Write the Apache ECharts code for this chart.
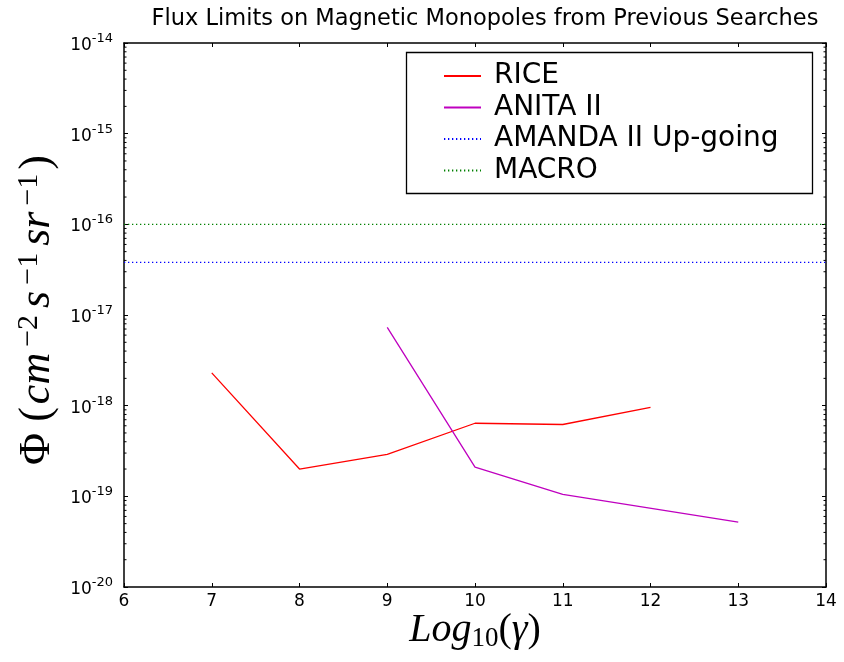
<!DOCTYPE html>
<html>
<head>
<meta charset="utf-8">
<script src="https://cdn.jsdelivr.net/npm/echarts@6/dist/echarts.min.js"></script>
<style>
  html, body { margin: 0; padding: 0; background: #ffffff; }
  #chart { width: 844px; height: 662px; }
</style>
</head>
<body>
<div id="chart"></div>
<script>
// Flux limits (cm^-2 s^-1 sr^-1) versus log10 of the Lorentz factor
const riceGamma = [7, 8, 9, 10, 11, 12];
const riceFlux = [2.3e-18, 2.0e-19, 2.9e-19, 6.4e-19, 6.2e-19, 9.6e-19];

const anitaGamma = [9, 10, 11, 13];
const anitaFlux = [7.3e-18, 2.1e-19, 1.05e-19, 5.2e-20];

// Constant limits drawn across the whole gamma range
const amandaGamma = [6, 14];
const amandaFlux = [3.8e-17, 3.8e-17];
const macroGamma = [6, 14];
const macroFlux = [1.0e-16, 1.0e-16];

const xTicks = [6, 7, 8, 9, 10, 11, 12, 13, 14];
const yExtent = [1e-20, 1e-14];

const seriesNames = ['RICE', 'ANITA II', 'AMANDA II Up-going', 'MACRO'];

// Minor tick marks (2..9 within each decade) for the log axis
const minorTickValues = [];
for (let e = -20; e < -14; e++) {
  for (let m = 2; m <= 9; m++) minorTickValues.push([xTicks[0], m * Math.pow(10, e)]);
}

const pairs = (xs, ys) => xs.map((x, i) => [x, ys[i]]);

const chart = echarts.init(document.getElementById('chart'), null, { renderer: 'canvas' });

const axisLineStyle = { color: '#000', width: 1.5 };
const tickFont = 'DejaVu Sans';
const mathFont = 'Liberation Serif';

const option = {
  backgroundColor: '#ffffff',
  animation: false,
  title: {
    text: 'Flux Limits on Magnetic Monopoles from Previous Searches',
    left: 480,
    top: 3,
    textAlign: 'center',
    textStyle: { fontSize: 22.5, fontWeight: 'normal', fontFamily: tickFont, color: '#000' }
  },
  grid: { left: 124, right: 18, top: 43, bottom: 75, show: false },
  legend: {
    orient: 'vertical',
    left: 438,
    top: 56,
    z: 10,
    itemWidth: 37,
    itemHeight: 14,
    itemGap: 1.5,
    selectedMode: false,
    itemStyle: { opacity: 0 },
    textStyle: { fontSize: 28, fontFamily: tickFont, color: '#000', lineHeight: 30, padding: [0, 0, 0, 8] },
    data: seriesNames
  },
  xAxis: [
    {
      type: 'value', min: xTicks[0], max: xTicks[xTicks.length - 1], interval: 1,
      position: 'bottom',
      axisLine: { show: true, onZero: false, lineStyle: axisLineStyle },
      axisTick: { show: true, inside: true, length: 4, lineStyle: { color: '#000', width: 1 } },
      axisLabel: { show: true, fontSize: 17, fontFamily: tickFont, color: '#000', margin: 6, showMinLabel: true, showMaxLabel: true },
      splitLine: { show: false }
    },
    {
      type: 'value', min: xTicks[0], max: xTicks[xTicks.length - 1], interval: 1,
      position: 'top',
      axisLine: { show: true, onZero: false, lineStyle: axisLineStyle },
      axisTick: { show: true, inside: true, length: 4, lineStyle: { color: '#000', width: 1 } },
      axisLabel: { show: false },
      splitLine: { show: false }
    }
  ],
  yAxis: [
    {
      type: 'log', logBase: 10, min: yExtent[0], max: yExtent[1], interval: 1,
      position: 'left',
      axisLine: { show: true, onZero: false, lineStyle: axisLineStyle },
      axisTick: { show: true, inside: true, length: 4, lineStyle: { color: '#000', width: 1 } },
      axisLabel: {
        show: true, margin: 11, color: '#000',
        formatter: (v) => '{b|10}{s|' + Math.round(Math.log10(v)) + '}',
        rich: {
          b: { fontSize: 17, fontFamily: tickFont, color: '#000', lineHeight: 22, verticalAlign: 'bottom' },
          s: { fontSize: 13, fontFamily: tickFont, color: '#000', lineHeight: 12, verticalAlign: 'top' }
        }
      },
      splitLine: { show: false }
    },
    {
      type: 'log', logBase: 10, min: yExtent[0], max: yExtent[1], interval: 1,
      position: 'right',
      axisLine: { show: true, onZero: false, lineStyle: axisLineStyle },
      axisTick: { show: true, inside: true, length: 4, lineStyle: { color: '#000', width: 1 } },
      axisLabel: { show: false },
      splitLine: { show: false }
    }
  ],
  series: [
    {
      name: 'RICE', type: 'line', data: pairs(riceGamma, riceFlux),
      symbol: 'none', color: '#ff0000',
      lineStyle: { color: '#ff0000', width: 1.3 }
    },
    {
      name: 'ANITA II', type: 'line', data: pairs(anitaGamma, anitaFlux),
      symbol: 'none', color: '#bf00bf',
      lineStyle: { color: '#bf00bf', width: 1.3 }
    },
    {
      name: 'AMANDA II Up-going', type: 'line', data: pairs(amandaGamma, amandaFlux),
      symbol: 'none', color: '#0000ff',
      lineStyle: { color: '#0000ff', width: 1.3, type: [1.3, 2.7] }
    },
    {
      name: 'MACRO', type: 'line', data: pairs(macroGamma, macroFlux),
      symbol: 'none', color: '#008000',
      lineStyle: { color: '#008000', width: 1.3, type: [1.3, 2.7] }
    },
    {
      name: 'minor-ticks', type: 'custom', silent: true,
      data: minorTickValues,
      encode: { x: 0, y: 1 },
      renderItem: (params, api) => {
        const v = api.value(1);
        const pl = api.coord([xTicks[0], v]);
        const pr = api.coord([xTicks[xTicks.length - 1], v]);
        return {
          type: 'group',
          children: [
            { type: 'line', shape: { x1: pl[0], y1: pl[1], x2: pl[0] + 2.5, y2: pl[1] }, style: { stroke: '#000', lineWidth: 1 } },
            { type: 'line', shape: { x1: pr[0] - 2.5, y1: pr[1], x2: pr[0], y2: pr[1] }, style: { stroke: '#000', lineWidth: 1 } }
          ]
        };
      }
    }
  ],
  graphic: [
    {
      type: 'rect', z: 5,
      shape: { x: 406.5, y: 52.5, width: 406, height: 141 },
      style: { fill: '#ffffff', stroke: '#000', lineWidth: 1.3 }
    },
    {
      type: 'text', z: 5,
      x: 475, y: 630,
      style: {
        text: '{i|Log}{sub|10}{n|(}{i|γ}{n|)}',
        align: 'center', verticalAlign: 'middle',
        rich: {
          i: { fontSize: 40, fontStyle: 'italic', fontFamily: mathFont, fill: '#000', lineHeight: 44 },
          n: { fontSize: 40, fontFamily: mathFont, fill: '#000', lineHeight: 44 },
          sub: { fontSize: 27, fontFamily: mathFont, fill: '#000', lineHeight: 24, verticalAlign: 'bottom' }
        }
      }
    },
    {
      type: 'text', z: 5,
      x: 37, y: 310, rotation: Math.PI / 2,
      style: {
        text: '{n|Φ (}{i|cm}{sup|−2}{i|s}{sup|−1}{i|sr}{sup|−1}{n|)}',
        align: 'center', verticalAlign: 'middle',
        rich: {
          i: { fontSize: 44, fontStyle: 'italic', fontFamily: mathFont, fill: '#000', lineHeight: 46, padding: [0, 3, 0, 3] },
          n: { fontSize: 44, fontFamily: mathFont, fill: '#000', lineHeight: 46 },
          sup: { fontSize: 30, fontFamily: mathFont, fill: '#000', lineHeight: 16, verticalAlign: 'top', padding: [0, 4, 0, 3] }
        }
      }
    }
  ]
};

chart.setOption(option);
</script>
</body>
</html>
